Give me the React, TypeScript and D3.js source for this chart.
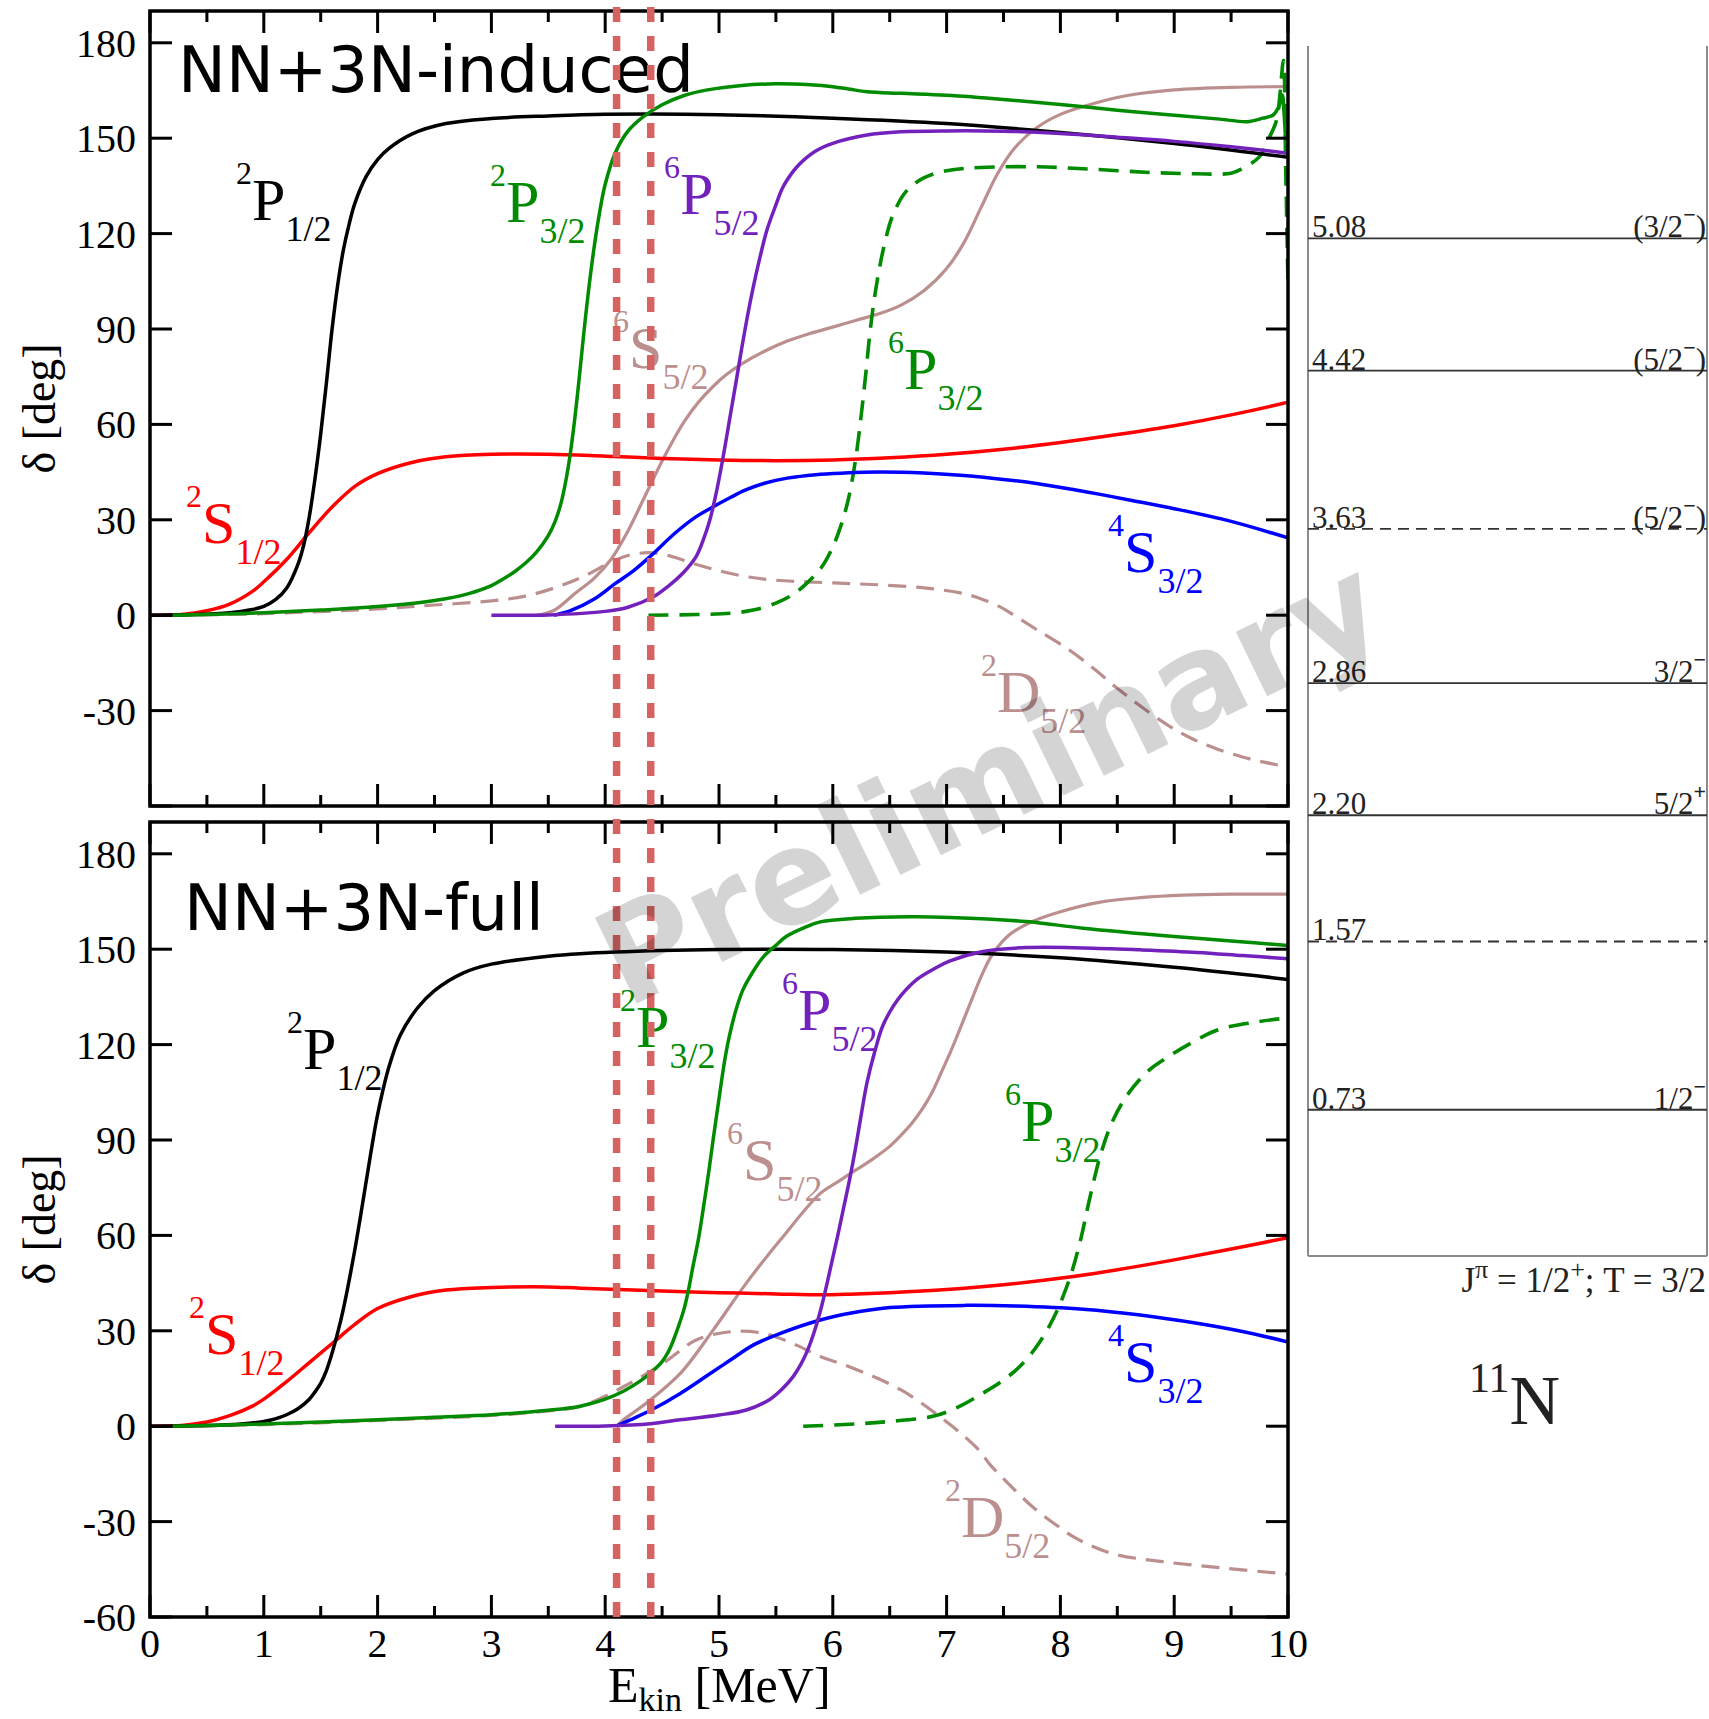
import React from "react";
import * as d3 from "d3";

type Pt = [number, number];

// ---------- phase shifts, NN+3N-induced (E_kin [MeV], delta [deg]) ----------
const indP12: Pt[] = [[0,0],[0.4,0.2],[0.7,0.8],[0.9,1.8],[1.0,2.8],[1.1,4.8],[1.2,8.5],[1.3,16],[1.35,22],[1.4,31],[1.45,43],[1.5,57],[1.55,73],[1.6,90],[1.65,104],[1.7,115],[1.75,123],[1.8,129.5],[1.9,138],[2.0,143.3],[2.1,146.8],[2.3,151.3],[2.6,154.6],[3.0,156.2],[3.5,157],[4.0,157.5],[5.0,157.4],[6.0,156.3],[7.0,154.6],[8.0,151.8],[9.0,148.3],[10,144]];
const indS12: Pt[] = [[0,0],[0.3,0.3],[0.5,1.4],[0.7,3.5],[0.9,7.5],[1.0,10.5],[1.2,17.5],[1.4,26],[1.6,34],[1.8,40.5],[2.0,44.5],[2.3,48],[2.6,49.8],[3.0,50.6],[3.5,50.6],[4.0,50],[4.5,49.3],[5.0,48.8],[5.5,48.6],[6.0,48.8],[6.5,49.5],[7.0,50.6],[7.5,52.2],[8.0,54.3],[8.5,56.8],[9.0,59.6],[9.5,63],[10,67]];
const indP32: Pt[] = [[0.2,0],[0.5,0.2],[1.0,0.8],[1.5,1.6],[2.0,2.7],[2.5,4.6],[2.8,6.8],[3.0,9.3],[3.1,11.3],[3.2,13.6],[3.3,16.4],[3.4,20],[3.5,25],[3.56,29.5],[3.61,35],[3.65,41.5],[3.69,50],[3.73,61],[3.77,74],[3.81,88],[3.85,101],[3.9,115],[3.95,126.5],[4.0,135.5],[4.09,145.5],[4.2,152.2],[4.33,156.6],[4.5,160.5],[4.7,163.5],[4.9,165.2],[5.2,166.6],[5.5,167.1],[5.8,166.8],[6.0,166.2],[6.15,165.4],[6.3,164.6],[6.6,164.1],[7.0,163.5],[7.5,162.2],[8.0,160.6],[8.5,158.8],[9.0,157.2],[9.4,156],[9.64,155.2],[9.78,156.3],[9.87,157.3],[9.92,160],[9.95,163.6],[9.965,158],[9.98,150],[10,145]];
const indP52: Pt[] = [[3.0,0],[3.5,0.1],[4.0,1.2],[4.2,2.5],[4.42,5.7],[4.55,9],[4.69,13.5],[4.8,18.5],[4.86,23.5],[4.92,30],[4.97,37.5],[5.03,48.5],[5.1,63],[5.16,75.5],[5.2,84],[5.25,94],[5.3,103],[5.35,111],[5.42,121],[5.5,129],[5.56,134.5],[5.65,139.5],[5.71,142],[5.85,146],[6.0,148.4],[6.3,151],[6.6,152],[7.0,152.3],[7.5,152.2],[8.0,151.5],[8.5,150.3],[9.0,149],[9.5,147.3],[10,145.3]];
const indS52: Pt[] = [[3.4,0],[3.55,1.5],[3.74,7],[3.9,11.5],[4.05,17.5],[4.2,26.5],[4.35,37.5],[4.5,48.5],[4.6,55.2],[4.7,61.2],[4.82,67],[4.95,72],[5.06,75.5],[5.2,79],[5.4,83],[5.6,86.2],[5.8,88.6],[6.0,90.6],[6.2,92.7],[6.4,94.7],[6.6,97.5],[6.8,102],[7.0,109],[7.15,117],[7.3,128],[7.45,139],[7.6,147],[7.8,153.5],[8.0,157.5],[8.3,161],[8.6,163.5],[9.0,165.2],[9.5,166],[10,166.2]];
const indS32: Pt[] = [[3.55,0],[3.7,1.5],[3.9,5],[4.09,10],[4.25,14],[4.39,18.3],[4.62,26],[4.8,31],[4.93,33.7],[5.1,37],[5.23,39.3],[5.4,41.5],[5.6,43.1],[5.85,44.2],[6.1,44.7],[6.4,45],[6.8,44.7],[7.12,44],[7.5,42.7],[7.79,41.4],[8.1,39.6],[8.35,38],[8.64,36],[9.0,33.5],[9.5,29.5],[10,24.3]];
const indD52: Pt[] = [[0.2,0],[1.0,0.5],[2.0,2],[2.5,3.2],[3.0,4.5],[3.3,6],[3.58,8.9],[3.8,12],[4.09,17.4],[4.25,19.2],[4.42,19.6],[4.6,18.3],[4.76,16.4],[5.0,14],[5.26,12],[5.5,11],[5.77,10.5],[6.1,10],[6.44,9.5],[6.8,8.6],[7.12,7],[7.3,5.2],[7.47,2.6],[7.6,-0.2],[7.79,-4.5],[8.06,-10.5],[8.3,-17],[8.5,-23],[8.7,-28.5],[8.94,-34.5],[9.15,-38.7],[9.37,-42],[9.6,-44.6],[9.8,-46.3],[10,-47.7]];
const ind6P32: Pt[] = [[4.38,0],[4.8,0.2],[5.1,0.6],[5.3,1.6],[5.5,3.8],[5.65,6.5],[5.77,10],[5.9,15],[6.0,21.5],[6.07,28],[6.14,37],[6.2,49],[6.25,63],[6.29,76],[6.33,90],[6.38,103],[6.45,116],[6.53,126],[6.65,133.5],[6.8,137.5],[7.0,139.8],[7.3,140.8],[7.8,141],[8.3,140.2],[8.8,139.2],[9.2,138.8],[9.5,139],[9.6,140.5],[9.75,144.2],[9.84,150.5],[9.9,155.7],[9.93,164],[9.96,174.5],[9.98,140],[10,104]];

// ---------- phase shifts, NN+3N-full ----------
const fullP12: Pt[] = [[0,0],[0.5,0.2],[0.8,0.7],[1.0,1.5],[1.1,2.3],[1.2,3.6],[1.3,5.5],[1.4,8.5],[1.45,10.8],[1.5,13.5],[1.55,17.5],[1.6,23],[1.65,29.5],[1.7,37],[1.8,55.5],[1.9,77],[1.95,88],[2.0,98],[2.1,113],[2.2,123],[2.35,131.5],[2.5,137],[2.75,142.5],[3.0,145.3],[3.5,147.8],[3.78,148.6],[4.5,149.6],[5.0,149.9],[6.0,149.9],[7.0,149.1],[8.0,147.3],[9.0,144.3],[10,140.5]];
const fullS12: Pt[] = [[0,0],[0.3,0.3],[0.5,1.3],[0.7,3.3],[0.9,6.3],[1.0,8.5],[1.2,14],[1.4,20],[1.6,26],[1.8,32],[2.0,37],[2.3,40.8],[2.6,42.8],[3.0,43.6],[3.5,43.8],[3.78,43.4],[4.5,42.5],[5.0,42],[5.5,41.6],[5.89,41.3],[6.15,41.5],[6.5,42],[7.0,43],[7.5,44.5],[8.08,46.9],[8.5,49.2],[9.0,52.3],[9.5,55.7],[10,59.3]];
const fullP32: Pt[] = [[0.2,0],[0.5,0.2],[1.0,0.7],[1.5,1.3],[2.0,2],[2.5,2.8],[3.0,3.6],[3.5,5],[3.78,6.3],[4.0,8.5],[4.16,11],[4.3,14],[4.4,16.8],[4.5,20.3],[4.57,24.5],[4.63,30],[4.69,36.5],[4.73,42.5],[4.77,50],[4.82,59],[4.86,68],[4.91,80],[4.95,90.5],[5.0,103],[5.05,115],[5.09,122.5],[5.15,131],[5.21,137.2],[5.3,143],[5.39,147.6],[5.5,151.2],[5.59,154],[5.75,156.8],[5.89,158.6],[6.2,159.7],[6.68,160.2],[7.03,160],[7.7,158.7],[8.2,156.6],[9.0,154],[9.5,152.6],[10,151.2]];
const fullP52: Pt[] = [[3.56,0],[4.0,0.1],[4.4,0.8],[4.66,2],[5.0,3.5],[5.24,5.1],[5.45,8.5],[5.55,11.5],[5.65,15.5],[5.72,19.5],[5.78,24],[5.84,30],[5.9,37.5],[5.95,45],[6.0,53],[6.05,61],[6.1,69.5],[6.15,78],[6.2,87.5],[6.25,98],[6.3,108],[6.37,118],[6.44,126],[6.53,132],[6.6,135.5],[6.74,140.5],[6.9,144],[7.03,146.3],[7.32,149.3],[7.7,150.5],[8.2,150.4],[8.7,149.8],[9.2,149],[9.6,148],[10,147]];
const fullS52: Pt[] = [[4.1,0],[4.16,2],[4.36,7.2],[4.66,16.6],[4.95,30.3],[5.24,45],[5.54,58.6],[5.89,73.2],[6.05,77],[6.2,80.5],[6.35,84],[6.5,88],[6.6,91.5],[6.7,95.5],[6.8,100.5],[6.88,105.5],[6.95,111],[7.02,116.5],[7.09,122.5],[7.18,130.5],[7.32,142.7],[7.41,148.8],[7.56,154.8],[7.76,158.8],[8.0,161.8],[8.35,164.8],[8.7,166.2],[9.08,167],[9.5,167.3],[10,167.3]];
const fullS32: Pt[] = [[4.1,0],[4.22,2],[4.4,5],[4.66,10.3],[4.9,16],[5.1,20.8],[5.3,25.5],[5.54,29.2],[5.89,33.4],[6.15,35.5],[6.5,37.3],[7.18,38],[7.6,37.8],[8.2,36.8],[8.7,35],[9.2,32.4],[9.6,29.8],[10,26.5]];
const fullD52: Pt[] = [[0.2,0],[1.0,0.5],[2.0,1.8],[3.0,3.4],[3.5,4.8],[3.78,6.2],[4.16,12.4],[4.51,19.8],[4.8,27.1],[5.1,29.7],[5.39,29.2],[5.68,25.5],[5.89,21.9],[6.15,18.6],[6.6,11.4],[7.03,0.5],[7.27,-7],[7.38,-12],[7.5,-16.5],[7.76,-25.5],[8.0,-32],[8.14,-35.3],[8.45,-40],[8.9,-42.6],[9.43,-44.6],[10,-46.5]];
const full6P32: Pt[] = [[5.74,0],[6.15,0.6],[6.5,1.5],[6.88,3.1],[7.1,6],[7.32,10.4],[7.5,14.5],[7.65,19],[7.78,24.5],[7.88,30],[7.96,35.5],[8.02,40.5],[8.1,48.5],[8.18,59],[8.26,72],[8.35,85],[8.44,94.4],[8.54,101.5],[8.64,106.6],[8.78,112],[8.94,116],[9.15,120.5],[9.38,124.6],[9.7,127],[10,128.4]];

// ---------- axes ----------
const xTicks = [0, 1, 2, 3, 4, 5, 6, 7, 8, 9, 10];
const xMinorTicks = [0.5, 1.5, 2.5, 3.5, 4.5, 5.5, 6.5, 7.5, 8.5, 9.5];
const yTicks = [-60, -30, 0, 30, 60, 90, 120, 150, 180];
const thresholdE = [4.1, 4.4];

// ---------- 11N level scheme ----------
const levelE = [5.08, 4.42, 3.63, 2.86, 2.2, 1.57, 0.73];
const levelText = ["5.08", "4.42", "3.63", "2.86", "2.20", "1.57", "0.73"];
const levelJ = ["(3/2", "(5/2", "(5/2", "3/2", "5/2", "", "1/2"];
const levelParity = ["\u2212", "\u2212", "\u2212", "\u2212", "+", "", "\u2212"];
const levelClose = [")", ")", ")", "", "", "", ""];
const levelDashed = [false, false, true, false, false, true, false];

const C = {
  black: "#000000",
  red: "#ff0000",
  green: "#008b00",
  indigo: "#7221bc",
  blue: "#0000ff",
  rose: "#bc8f8f",
  marker: "#d76262",
};

const serif = "'Liberation Serif', 'Times New Roman', serif";
const sans = "'DejaVu Sans', sans-serif";

const X0 = 150;
const X1 = 1288;
const x = d3.scaleLinear().domain([0, 10]).range([X0, X1]);

type Series = { data: Pt[]; color: string; dash?: string; width?: number };
type Term = { x: number; y: number; sup: string; main: string; sub: string; color: string };

const topSeries: Series[] = [
  { data: indD52, color: C.rose, dash: "18 10", width: 3.2 },
  { data: indS52, color: C.rose, width: 3.2 },
  { data: ind6P32, color: C.green, dash: "20 11", width: 3.6 },
  { data: indS12, color: C.red },
  { data: indS32, color: C.blue },
  { data: indP12, color: C.black },
  { data: indP32, color: C.green },
  { data: indP52, color: C.indigo },
];
const botSeries: Series[] = [
  { data: fullD52, color: C.rose, dash: "18 10", width: 3.2 },
  { data: fullS52, color: C.rose, width: 3.2 },
  { data: full6P32, color: C.green, dash: "20 11", width: 3.6 },
  { data: fullS12, color: C.red },
  { data: fullS32, color: C.blue },
  { data: fullP12, color: C.black },
  { data: fullP32, color: C.green },
  { data: fullP52, color: C.indigo },
];

const topTerms: Term[] = [
  { x: 236, y: 220, sup: "2", main: "P", sub: "1/2", color: C.black },
  { x: 490, y: 222, sup: "2", main: "P", sub: "3/2", color: C.green },
  { x: 664, y: 214, sup: "6", main: "P", sub: "5/2", color: C.indigo },
  { x: 613, y: 368, sup: "6", main: "S", sub: "5/2", color: C.rose },
  { x: 888, y: 389, sup: "6", main: "P", sub: "3/2", color: C.green },
  { x: 186, y: 543, sup: "2", main: "S", sub: "1/2", color: C.red },
  { x: 1108, y: 572, sup: "4", main: "S", sub: "3/2", color: C.blue },
  { x: 981, y: 712, sup: "2", main: "D", sub: "5/2", color: C.rose },
];
const botTerms: Term[] = [
  { x: 287, y: 1069, sup: "2", main: "P", sub: "1/2", color: C.black },
  { x: 620, y: 1047, sup: "2", main: "P", sub: "3/2", color: C.green },
  { x: 782, y: 1030, sup: "6", main: "P", sub: "5/2", color: C.indigo },
  { x: 727, y: 1180, sup: "6", main: "S", sub: "5/2", color: C.rose },
  { x: 1005, y: 1141, sup: "6", main: "P", sub: "3/2", color: C.green },
  { x: 189, y: 1354, sup: "2", main: "S", sub: "1/2", color: C.red },
  { x: 1108, y: 1382, sup: "4", main: "S", sub: "3/2", color: C.blue },
  { x: 945, y: 1537, sup: "2", main: "D", sub: "5/2", color: C.rose },
];

function TermLabel({ t }: { t: Term }) {
  return (
    <text x={t.x} y={t.y} fill={t.color} fontFamily={serif}>
      <tspan fontSize={32} dy={-36}>{t.sup}</tspan>
      <tspan fontSize={60} dy={36}>{t.main}</tspan>
      <tspan fontSize={36} dy={21}>{t.sub}</tspan>
    </text>
  );
}

function Panel({
  id, top, bottom, series, terms, title, titleX, titleY, lowLabel,
}: {
  id: string; top: number; bottom: number; series: Series[]; terms: Term[];
  title: string; titleX: number; titleY: number; lowLabel: boolean;
}) {
  const y = d3.scaleLinear().domain([-60, 190]).range([bottom, top]);
  const line = d3
    .line<Pt>()
    .x((d) => x(d[0]))
    .y((d) => y(d[1]))
    .curve(d3.curveCatmullRom.alpha(0.5));
  const major = 22;
  const minor = 11;
  const labelTicks = lowLabel ? yTicks : yTicks.filter((v) => v > -60);
  return (
    <g>
      <defs>
        <clipPath id={id}>
          <rect x={X0} y={top} width={X1 - X0} height={bottom - top} />
        </clipPath>
      </defs>
      <g clipPath={`url(#${id})`}>
        {series.map((s, i) => (
          <path key={i} d={line(s.data) || ""} fill="none" stroke={s.color}
            strokeWidth={s.width ?? 3.5} strokeDasharray={s.dash} strokeLinejoin="round" />
        ))}
      </g>
      {terms.map((t, i) => <TermLabel key={i} t={t} />)}
      {/* ticks on all four sides, pointing inward */}
      <g stroke="#000" strokeWidth={3}>
        {xTicks.map((v) => (
          <g key={`mx${v}`}>
            <line x1={x(v)} x2={x(v)} y1={bottom} y2={bottom - major} />
            <line x1={x(v)} x2={x(v)} y1={top} y2={top + major} />
          </g>
        ))}
        {xMinorTicks.map((v) => (
          <g key={`mn${v}`}>
            <line x1={x(v)} x2={x(v)} y1={bottom} y2={bottom - minor} />
            <line x1={x(v)} x2={x(v)} y1={top} y2={top + minor} />
          </g>
        ))}
        {yTicks.map((v) => (
          <g key={`y${v}`}>
            <line x1={X0} x2={X0 + major} y1={y(v)} y2={y(v)} />
            <line x1={X1} x2={X1 - major} y1={y(v)} y2={y(v)} />
          </g>
        ))}
      </g>
      <rect x={X0} y={top} width={X1 - X0} height={bottom - top} fill="none" stroke="#000" strokeWidth={3.5} />
      {labelTicks.map((v) => (
        <text key={`yl${v}`} x={136} y={y(v) + 14} textAnchor="end" fontFamily={serif} fontSize={40}>
          {v}
        </text>
      ))}
      <text x={titleX} y={titleY} fontFamily={sans} fontSize={64}>{title}</text>
      <text transform={`translate(55,${(top + bottom) / 2}) rotate(-90)`} textAnchor="middle"
        fontFamily={serif} fontSize={46}>
        δ [deg]
      </text>
    </g>
  );
}

function LevelScheme() {
  const yl = d3.scaleLinear().domain([0, 6.04]).range([1256, 46]);
  const left = 1308;
  const right = 1707;
  return (
    <g fontFamily={serif}>
      <g stroke="#8c8c8c" strokeWidth={2} fill="none">
        <line x1={left} x2={left} y1={46} y2={1256} />
        <line x1={right} x2={right} y1={46} y2={1256} />
        <line x1={left} x2={right} y1={1256} y2={1256} />
      </g>
      {levelE.map((e, i) => (
        <g key={i}>
          <line x1={left} x2={right} y1={yl(e)} y2={yl(e)} stroke="#333" strokeWidth={1.8}
            strokeDasharray={levelDashed[i] ? "11 7" : undefined} />
          <text x={left + 4} y={yl(e) - 1} fontSize={31} fill="#222">{levelText[i]}</text>
          {levelJ[i] && (
            <text x={1706} y={yl(e) - 1} fontSize={31} fill="#222" textAnchor="end">
              {levelJ[i]}
              <tspan fontSize={22} fontWeight="bold" dy={-15}>{levelParity[i]}</tspan>
              <tspan dy={15}>{levelClose[i]}</tspan>
            </text>
          )}
        </g>
      ))}
      <text x={1706} y={1292} fontSize={35} textAnchor="end" fill="#222">
        J<tspan fontSize={26} dy={-14}>π</tspan>
        <tspan dy={14}> = 1/2</tspan>
        <tspan fontSize={26} dy={-14}>+</tspan>
        <tspan dy={14}>; T = 3/2</tspan>
      </text>
      <text x={1469} y={1424} fill="#222">
        <tspan fontSize={42} dy={-32}>11</tspan>
        <tspan fontSize={70} dy={32}>N</tspan>
      </text>
    </g>
  );
}

export default function App() {
  return (
    <svg width={1709} height={1719} viewBox="0 0 1709 1719"
      style={{ position: "absolute", left: 0, top: 0, background: "#fff" }}>
      <rect width={1709} height={1719} fill="#fff" />
      <Panel id="clipTop" top={11} bottom={806} series={topSeries} terms={topTerms}
        title="NN+3N-induced" titleX={178} titleY={92} lowLabel={false} />
      <Panel id="clipBot" top={822} bottom={1617} series={botSeries} terms={botTerms}
        title="NN+3N-full" titleX={184} titleY={930} lowLabel={true} />
      {thresholdE.map((e) => (
        <line key={e} x1={x(e)} x2={x(e)} y1={7} y2={1622} stroke={C.marker}
          strokeWidth={7.5} strokeDasharray="15 14" />
      ))}
      {xTicks.map((v) => (
        <text key={`xl${v}`} x={x(v)} y={1657} textAnchor="middle" fontFamily={serif} fontSize={40}>
          {v}
        </text>
      ))}
      <text x={608} y={1702} fontFamily={serif} fontSize={50}>
        E<tspan fontSize={34} dy={9}>kin</tspan>
        <tspan dy={-9}> [MeV]</tspan>
      </text>
      <LevelScheme />
      <text transform="translate(1009,822) rotate(-26)" textAnchor="middle" fontFamily={sans}
        fontWeight="bold" fontSize={131} fill="#000" fillOpacity={0.17}>
        Preliminary
      </text>
    </svg>
  );
}
